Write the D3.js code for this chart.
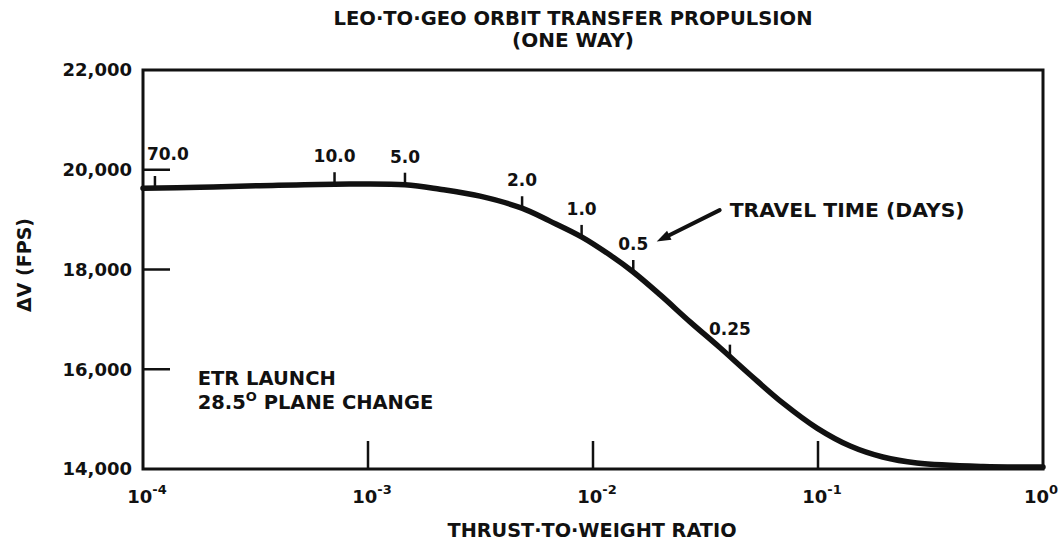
<!DOCTYPE html>
<html>
<head>
<meta charset="utf-8">
<script src="https://cdn.jsdelivr.net/npm/d3@7/dist/d3.min.js"></script>
<style>
  html, body { margin: 0; padding: 0; background: #fff; }
  svg text { font-family: "DejaVu Sans", sans-serif; font-weight: bold; fill: #111; }
</style>
</head>
<body>
<svg id="chart" width="1064" height="548"></svg>
<script>
// Delta-V for a one-way LEO-to-GEO transfer as a function of thrust-to-weight ratio
const ratio  = [1e-4, 1.79e-4, 3.31e-4, 7.13e-4, 1.46e-3, 2.09e-3, 3.15e-3, 4.83e-3,
                6.44e-3, 8.93e-3, 1.19e-2, 1.51e-2, 1.99e-2, 2.70e-2, 3.67e-2, 4.99e-2,
                6.99e-2, 9.9e-2, 0.139, 0.194, 0.275, 0.541, 1];
const deltaV = [19630, 19650, 19680, 19710, 19700, 19610, 19470, 19230,
                18970, 18650, 18290, 17950, 17490, 16950, 16430, 15890,
                15320, 14820, 14460, 14240, 14120, 14050, 14040];

// Travel time (days) marked along the curve
const travelDays  = ["70.0", "10.0", "5.0", "2.0", "1.0", "0.5", "0.25"];
const travelRatio = [1.13e-4, 7.1e-4, 1.46e-3, 4.84e-3, 8.9e-3, 1.51e-2, 4.06e-2];

const yTicks = [14000, 16000, 18000, 20000, 22000];
const xTicks = [1e-4, 1e-3, 1e-2, 1e-1, 1];
const xTickExp = ["-4", "-3", "-2", "-1", "0"];

const titleLines = ["LEO·TO·GEO ORBIT TRANSFER PROPULSION", "(ONE WAY)"];
const xTitle = "THRUST·TO·WEIGHT RATIO";
const yTitle = "ΔV (FPS)";
const noteLines = ["ETR LAUNCH", "28.5", "PLANE CHANGE"];
const calloutText = "TRAVEL TIME (DAYS)";

const svg = d3.select("#chart");
const plot = { left: 143, right: 1043, top: 70, bottom: 469 };

const x = d3.scaleLog().domain([1e-4, 1]).range([plot.left, plot.right]);
const y = d3.scaleLinear().domain([14000, 22000]).range([plot.bottom, plot.top]);

const data = ratio.map((r, i) => ({ r, v: deltaV[i] }));

// interpolate the curve value at a given ratio (linear in log-x)
function valueAt(r) {
  const lr = Math.log10(r);
  for (let i = 0; i < data.length - 1; i++) {
    const a = Math.log10(data[i].r), b = Math.log10(data[i + 1].r);
    if (lr >= a && lr <= b) {
      const t = (lr - a) / (b - a);
      return data[i].v + t * (data[i + 1].v - data[i].v);
    }
  }
  return data[data.length - 1].v;
}

// frame
svg.append("rect")
  .attr("x", plot.left).attr("y", plot.top)
  .attr("width", plot.right - plot.left).attr("height", plot.bottom - plot.top)
  .attr("fill", "none").attr("stroke", "#111").attr("stroke-width", 3);

// y ticks (inside) and labels
svg.append("g").selectAll("line")
  .data(yTicks.filter(d => d > 14000 && d < 22000))
  .join("line")
  .attr("x1", plot.left).attr("x2", plot.left + 27)
  .attr("y1", d => y(d)).attr("y2", d => y(d))
  .attr("stroke", "#111").attr("stroke-width", 2.5);

svg.append("g").selectAll("text")
  .data(yTicks)
  .join("text")
  .attr("x", plot.left - 11).attr("y", d => y(d))
  .attr("dy", "0.36em")
  .attr("text-anchor", "end")
  .attr("font-size", 18)
  .text(d => d3.format(",")(d));

// x ticks (inside) and labels
svg.append("g").selectAll("line")
  .data(xTicks.filter(d => d > 1e-4 && d < 1))
  .join("line")
  .attr("x1", d => x(d)).attr("x2", d => x(d))
  .attr("y1", plot.bottom).attr("y2", plot.bottom - 28)
  .attr("stroke", "#111").attr("stroke-width", 2.5);

const xl = svg.append("g").selectAll("text")
  .data(xTicks)
  .join("text")
  .attr("x", (d, i) => x(d) + (i === xTicks.length - 1 ? -2 : 4)).attr("y", plot.bottom + 34)
  .attr("text-anchor", "middle")
  .attr("font-size", 18);
xl.append("tspan").text("10");
xl.append("tspan").attr("font-size", 13).attr("dy", -9).text((d, i) => xTickExp[i]);

// axis titles
svg.append("text")
  .attr("x", 592).attr("y", 537)
  .attr("text-anchor", "middle").attr("font-size", 19)
  .attr("textLength", 289).attr("lengthAdjust", "spacingAndGlyphs")
  .text(xTitle);

svg.append("text")
  .attr("transform", "translate(31,265) rotate(-90)")
  .attr("text-anchor", "middle").attr("font-size", 19)
  .text(yTitle);

// title
svg.append("g").selectAll("text")
  .data(titleLines)
  .join("text")
  .attr("x", 573).attr("y", (d, i) => 25 + i * 22)
  .attr("text-anchor", "middle").attr("font-size", 20)
  .attr("textLength", (d, i) => i === 0 ? 479 : null)
  .attr("lengthAdjust", "spacingAndGlyphs")
  .text(d => d);

// curve
const line = d3.line()
  .x(d => x(d.r)).y(d => y(d.v))
  .curve(d3.curveCatmullRom.alpha(0.5));

svg.append("path")
  .datum(data)
  .attr("d", line)
  .attr("fill", "none")
  .attr("stroke", "#111")
  .attr("stroke-width", 5.5)
  .attr("stroke-linecap", "round");

// travel-time markers
const marks = travelRatio.map((r, i) => ({ r, v: valueAt(r), label: travelDays[i] }));
const tickLen = 12;

svg.append("g").selectAll("line")
  .data(marks)
  .join("line")
  .attr("x1", d => x(d.r)).attr("x2", d => x(d.r))
  .attr("y1", d => y(d.v)).attr("y2", d => y(d.v) - tickLen)
  .attr("stroke", "#111").attr("stroke-width", 2.5);

svg.append("g").selectAll("text")
  .data(marks)
  .join("text")
  .attr("x", (d, i) => i === 0 ? x(d.r) - 8 : x(d.r))
  .attr("y", (d, i) => i === 0 ? y(20000) - 10 : y(d.v) - tickLen - 10)
  .attr("text-anchor", (d, i) => i === 0 ? "start" : "middle")
  .attr("font-size", 17)
  .text(d => d.label);

// callout with arrow
const calloutAt = { r: 0.0405, v: 19050 };
const arrowTip  = { r: 0.0192, v: 18563 };
svg.append("text")
  .attr("x", x(calloutAt.r)).attr("y", y(calloutAt.v))
  .attr("font-size", 20)
  .attr("textLength", 235).attr("lengthAdjust", "spacingAndGlyphs")
  .text(calloutText);

const tail = [x(calloutAt.r) - 10, y(calloutAt.v) - 7];
const tip  = [x(arrowTip.r), y(arrowTip.v)];
svg.append("line")
  .attr("x1", tail[0]).attr("y1", tail[1])
  .attr("x2", tip[0] + 10).attr("y2", tip[1] - 5)
  .attr("stroke", "#111").attr("stroke-width", 4).attr("stroke-linecap", "round");
{
  const ang = Math.atan2(tip[1] - tail[1], tip[0] - tail[0]);
  const L = 14, W = 5;
  const bx = tip[0] - L * Math.cos(ang), by = tip[1] - L * Math.sin(ang);
  const px = -Math.sin(ang) * W, py = Math.cos(ang) * W;
  svg.append("path")
    .attr("d", `M${tip[0]},${tip[1]}L${bx + px},${by + py}L${bx - px},${by - py}Z`)
    .attr("fill", "#111");
}

// launch note
const noteAt = { r: 1.75e-4, v: 15688 };
const note = svg.append("g");
note.append("text")
  .attr("x", x(noteAt.r)).attr("y", y(noteAt.v))
  .attr("font-size", 19.5)
  .text(noteLines[0]);
const n2 = note.append("text")
  .attr("x", x(noteAt.r)).attr("y", y(noteAt.v) + 24)
  .attr("font-size", 19.5);
n2.append("tspan").text(noteLines[1]);
n2.append("tspan").attr("font-size", 13).attr("dy", -8).text("O");
n2.append("tspan").attr("dy", 8).text(" " + noteLines[2]);
</script>
</body>
</html>
